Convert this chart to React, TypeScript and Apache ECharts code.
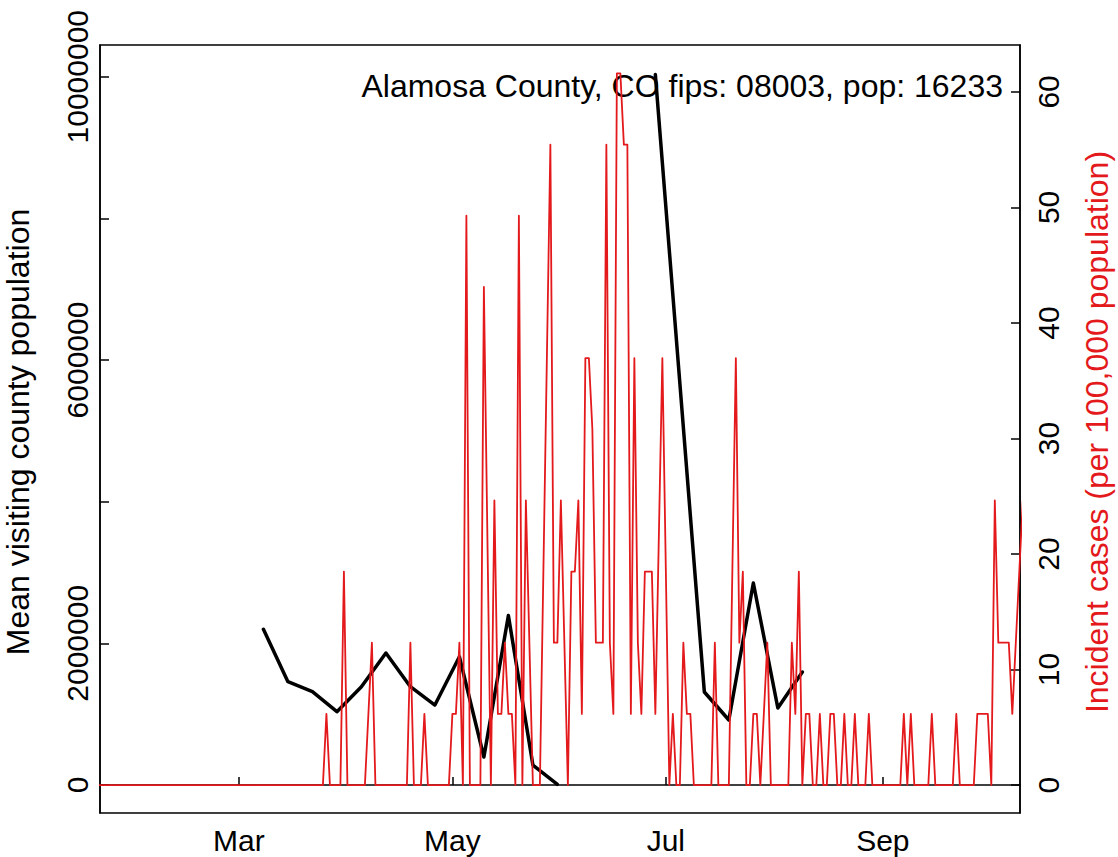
import React, { useEffect, useRef } from "react";
import * as echarts from "echarts";

// x axis: day of year 2020 (Jan 1 = 0)
const monthTickDays = [60, 121, 182, 244];
const monthTickLabels = ["Mar", "May", "Jul", "Sep"];
const leftTickValues = [0, 2000000, 4000000, 6000000, 8000000, 10000000];
const leftLabelValues = [0, 2000000, 6000000, 10000000];
const rightTickValues = [0, 10, 20, 30, 40, 50, 60];

const titleText = "Alamosa County, CO fips: 08003, pop: 16233";
const leftTitle = "Mean visiting county population";
const rightTitle = "Incident cases (per 100,000 population)";

// weekly mean visiting county population (null = no data)
const visitDays = [67, 74, 81, 88, 95, 102, 109, 116, 123, 130, 137, 144, 151, 165, 179, 193, 200, 207, 214, 221];
const visitMeans = [
  2198000, 1458000, 1317000, 1035000, 1388000, 1864000, 1388000, 1129000, 1811000, 395000,
  2392000, 282000, 10000, null, 10030000, 1313000, 918000, 2852000, 1087000, 1595000,
];

// daily incident cases per 100,000
const caseDays = [
  20, 84, 85, 86, 89, 90, 91, 96, 98, 99, 108, 109, 110, 112, 113, 114, 120, 121, 122, 123,
  124, 125, 126, 129, 130, 132, 133, 134, 135, 136, 137, 138, 139, 140, 141, 142, 144, 146, 149, 150,
  151, 152, 154, 155, 156, 157, 158, 159, 160, 161, 162, 164, 165, 166, 167, 168, 169, 170, 171, 172,
  173, 174, 175, 176, 178, 179, 181, 183, 184, 185, 186, 187, 188, 189, 190, 195, 196, 197, 200, 202,
  203, 204, 205, 206, 207, 208, 209, 211, 212, 217, 218, 219, 220, 221, 222, 223, 224, 225, 226, 227,
  228, 229, 230, 231, 232, 233, 234, 235, 236, 237, 239, 240, 241, 249, 250, 251, 252, 253, 257, 258,
  259, 264, 265, 266, 270, 271, 274, 275, 276, 277, 280, 281, 282, 283, 284,
];
const caseRates = [
  0, 0, 6.16, 0, 0, 18.48, 0, 0, 12.32, 0, 0, 12.32, 0, 0, 6.16, 0, 0, 6.16, 6.16, 12.32,
  0, 49.28, 0, 0, 43.12, 0, 24.64, 6.16, 6.16, 12.32, 6.16, 6.16, 0, 49.28, 0, 24.64, 0, 0, 55.44, 12.32,
  12.32, 24.64, 0, 18.48, 18.48, 24.64, 6.16, 36.96, 36.96, 30.8, 12.32, 12.32, 55.44, 12.32, 6.16, 61.6, 61.6, 55.44, 55.44, 6.16,
  36.96, 12.32, 6.16, 18.48, 18.48, 6.16, 36.96, 0, 6.16, 0, 0, 12.32, 6.16, 6.16, 0, 0, 12.32, 0, 0, 36.96,
  12.32, 18.48, 0, 0, 6.16, 6.16, 0, 12.32, 0, 0, 12.32, 6.16, 18.48, 0, 6.16, 6.16, 0, 0, 6.16, 0,
  0, 6.16, 6.16, 0, 0, 6.16, 0, 0, 6.16, 0, 0, 6.16, 0, 0, 6.16, 0, 6.16, 0, 0, 6.16,
  0, 0, 6.16, 0, 0, 6.16, 6.16, 0, 24.64, 12.32, 12.32, 6.16, 12.32, 18.48, 24.64,
];

const FONT = "'Liberation Sans', Arial, Helvetica, sans-serif";
const RED = "#E3191C";

export default function App() {
  const ref = useRef<HTMLDivElement>(null);
  useEffect(() => {
    if (!ref.current) return;
    const chart = echarts.init(ref.current, undefined, { renderer: "svg" });
    const monthMap: Record<number, string> = {};
    monthTickDays.forEach((d, i) => (monthMap[d] = monthTickLabels[i]));
    const option: any = {
      animation: false,
      backgroundColor: "#fff",
      grid: { left: 100, right: 98, top: 45, bottom: 44, show: true, borderColor: "#000", borderWidth: 1.5, backgroundColor: "transparent" },
      xAxis: {
        type: "value",
        min: 20.3,
        max: 283.2,
        axisLine: { show: true, lineStyle: { color: "#000", width: 1.5 } },
        axisTick: { show: true, inside: true, length: 8, customValues: monthTickDays, lineStyle: { color: "#000", width: 1.5 } },
        axisLabel: {
          customValues: monthTickDays,
          formatter: (v: number) => monthMap[Math.round(v)] ?? "",
          color: "#000",
          fontFamily: FONT,
          fontSize: 30,
          lineHeight: 30,
          margin: 12,
        },
        splitLine: { show: false },
      },
      yAxis: [
        {
          type: "value",
          position: "left",
          min: -395300,
          max: 10447600,
          axisLine: { show: true, lineStyle: { color: "#000", width: 1.5 } },
          axisTick: { show: true, inside: true, length: 9, customValues: leftTickValues, lineStyle: { color: "#000", width: 1.5 } },
          axisLabel: {
            customValues: leftLabelValues,
            formatter: (v: number) => String(Math.round(v)),
            rotate: 90,
            color: "#000",
            fontFamily: FONT,
            fontSize: 30,
            lineHeight: 30,
            margin: 8,
          },
          splitLine: { show: false },
        },
        {
          type: "value",
          position: "right",
          min: -2.42,
          max: 64.06,
          axisLine: { show: true, lineStyle: { color: "#000", width: 1.5 } },
          axisTick: { show: true, inside: true, length: 9, customValues: rightTickValues, lineStyle: { color: "#000", width: 1.5 } },
          axisLabel: {
            customValues: rightTickValues,
            formatter: (v: number) => String(Math.round(v)),
            rotate: 90,
            color: "#000",
            fontFamily: FONT,
            fontSize: 30,
            lineHeight: 30,
            margin: 13,
          },
          splitLine: { show: false },
        },
      ],
      series: [
        {
          type: "line",
          name: "visiting",
          yAxisIndex: 0,
          data: visitDays.map((d, i) => [d, visitMeans[i]]),
          showSymbol: false,
          lineStyle: { color: "#000", width: 3.5, join: "round", cap: "round" },
          itemStyle: { color: "#000" },
          z: 2,
          clip: true,
        },
        {
          type: "line",
          name: "cases",
          yAxisIndex: 1,
          data: caseDays.map((d, i) => [d, caseRates[i]]),
          showSymbol: false,
          lineStyle: { color: RED, width: 1.8, join: "round" },
          itemStyle: { color: RED },
          z: 5,
          clip: true,
        },
      ],
      graphic: [
        {
          type: "text",
          z: 3,
          x: 1003,
          y: 86,
          style: { text: titleText, fill: "#000", font: `32px ${FONT}`, textAlign: "right", textVerticalAlign: "middle" },
        },
        {
          type: "text",
          x: 18,
          y: 432,
          rotation: Math.PI / 2,
          style: { text: leftTitle, fill: "#000", font: `32px ${FONT}`, textAlign: "center", textVerticalAlign: "middle" },
        },
        {
          type: "text",
          x: 1097,
          y: 432,
          rotation: Math.PI / 2,
          style: { text: rightTitle, fill: RED, font: `32px ${FONT}`, textAlign: "center", textVerticalAlign: "middle" },
        },
      ],
    };
    chart.setOption(option);
    return () => chart.dispose();
  }, []);
  return (
    <div
      ref={ref}
      style={{ position: "fixed", left: 0, top: 0, width: 1118, height: 857, background: "#fff" }}
    />
  );
}
